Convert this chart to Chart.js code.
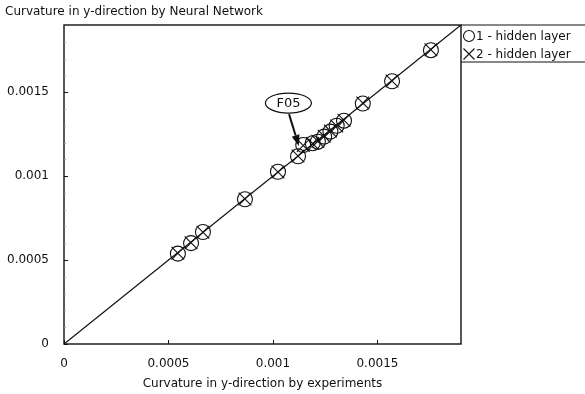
<!DOCTYPE html>
<html>
<head>
<meta charset="utf-8">
<script src="https://cdn.jsdelivr.net/npm/chart.js@4/dist/chart.umd.min.js"></script>
<style>
  html, body { margin: 0; padding: 0; background: #fff; }
  #wrap { width: 585px; height: 394px; }
</style>
</head>
<body>
<div id="wrap"><canvas id="c" width="585" height="394"></canvas></div>
<script>
// ---- data ----
const chartTitle = 'Curvature in y-direction by Neural Network';
const xAxisTitle = 'Curvature in y-direction by experiments';
const seriesLabels = ['1 - hidden layer', '2 - hidden layer'];
const tickValues = [0, 0.0005, 0.001, 0.0015];
const tickLabels = ['0', '0.0005', '0.001', '0.0015'];
const axisMin = 0;
const axisMax = 0.0019;
const experimentX = [0.000545, 0.000608, 0.000665, 0.000866, 0.001024, 0.001120, 0.001145, 0.001190, 0.001215, 0.001245, 0.001275, 0.001305, 0.001340, 0.001430, 0.001570, 0.001756];
const hidden1Y    = [0.000538, 0.000601, 0.000667, 0.000862, 0.001026, 0.001118, 0.001185, 0.001196, 0.001205, 0.001235, 0.001265, 0.001300, 0.001330, 0.001432, 0.001565, 0.001750];
const hidden2Y    = [0.000540, 0.000603, 0.000665, 0.000864, 0.001024, 0.001120, 0.001182, 0.001194, 0.001208, 0.001238, 0.001268, 0.001298, 0.001333, 0.001435, 0.001567, 0.001752];
const diagonal = [[0, 0], [0.0019, 0.0019]];
const annotationText = 'F05';
const annotationLabelAt = [0.001074, 0.001435];
const annotationArrowFrom = [0.001077, 0.001369];
const annotationArrowTo = [0.001124, 0.001179];

const FONT = '"DejaVu Sans", Verdana, sans-serif';
const toPts = (xs, ys) => xs.map((x, i) => ({ x: x, y: ys[i] }));

const framePlugin = {
  id: 'frame',
  afterDatasetsDraw(chart) {
    const ctx = chart.ctx;
    const a = chart.chartArea;
    const xs = chart.scales.x, ys = chart.scales.y;
    ctx.save();
    // frame
    ctx.strokeStyle = '#111';
    ctx.lineWidth = 1.4;
    ctx.strokeRect(a.left, a.top, a.right - a.left, a.bottom - a.top);
    // major ticks (inward)
    ctx.lineWidth = 1;
    ctx.beginPath();
    tickValues.forEach(v => {
      const px = Math.round(xs.getPixelForValue(v)) + 0.5;
      ctx.moveTo(px, a.bottom); ctx.lineTo(px, a.bottom - 4);
      const py = Math.round(ys.getPixelForValue(v)) + 0.5;
      ctx.moveTo(a.left, py); ctx.lineTo(a.left + 4, py);
    });
    ctx.stroke();
    // minor y ticks
    ctx.strokeStyle = '#999';
    ctx.beginPath();
    for (let k = 1; k < 19; k++) {
      if (k % 5 === 0) continue;
      const py = Math.round(ys.getPixelForValue(k * 0.0001)) + 0.5;
      ctx.moveTo(a.left, py); ctx.lineTo(a.left + 2, py);
    }
    ctx.stroke();

    // legend box
    ctx.strokeStyle = '#111';
    ctx.lineWidth = 1.2;
    ctx.beginPath();
    ctx.moveTo(a.right, a.top); ctx.lineTo(585, a.top);
    ctx.moveTo(a.right, a.top + 37); ctx.lineTo(585, a.top + 37);
    ctx.stroke();
    ctx.fillStyle = '#111';
    ctx.font = '12px ' + FONT;
    ctx.textBaseline = 'middle';
    ctx.textAlign = 'left';
    const lx = a.right + 8;
    const r1 = a.top + 11, r2 = a.top + 29;
    ctx.lineWidth = 1.1;
    ctx.beginPath(); ctx.arc(lx, r1, 5.5, 0, Math.PI * 2); ctx.stroke();
    ctx.beginPath();
    ctx.moveTo(lx - 5.5, r2 - 5.5); ctx.lineTo(lx + 5.5, r2 + 5.5);
    ctx.moveTo(lx + 5.5, r2 - 5.5); ctx.lineTo(lx - 5.5, r2 + 5.5);
    ctx.stroke();
    ctx.fillText(seriesLabels[0], lx + 7, r1 + 1);
    ctx.fillText(seriesLabels[1], lx + 7, r2 + 1);

    // F05 annotation
    const cx = xs.getPixelForValue(annotationLabelAt[0]);
    const cy = ys.getPixelForValue(annotationLabelAt[1]);
    ctx.lineWidth = 1.2;
    ctx.fillStyle = '#fff';
    ctx.beginPath(); ctx.ellipse(cx, cy, 23, 10, 0, 0, Math.PI * 2); ctx.fill(); ctx.stroke();
    ctx.fillStyle = '#111';
    ctx.textAlign = 'center';
    ctx.font = '13px ' + FONT;
    ctx.fillText(annotationText, cx, cy + 1);
    const fx = xs.getPixelForValue(annotationArrowFrom[0]);
    const fy = ys.getPixelForValue(annotationArrowFrom[1]);
    const tx = xs.getPixelForValue(annotationArrowTo[0]);
    const ty = ys.getPixelForValue(annotationArrowTo[1]);
    const ang = Math.atan2(ty - fy, tx - fx);
    const hl = 11, hw = 4;
    const bx = tx - hl * Math.cos(ang), by = ty - hl * Math.sin(ang);
    ctx.lineWidth = 2;
    ctx.beginPath(); ctx.moveTo(fx, fy); ctx.lineTo(bx, by); ctx.stroke();
    ctx.beginPath();
    ctx.moveTo(tx, ty);
    ctx.lineTo(bx + hw * Math.sin(ang), by - hw * Math.cos(ang));
    ctx.lineTo(bx - hw * Math.sin(ang), by + hw * Math.cos(ang));
    ctx.closePath(); ctx.fill();
    ctx.restore();
  }
};

new Chart(document.getElementById('c'), {
  type: 'scatter',
  data: {
    datasets: [
      {
        type: 'line',
        label: 'diagonal',
        data: diagonal.map(p => ({ x: p[0], y: p[1] })),
        borderColor: '#111',
        borderWidth: 1.3,
        pointRadius: 0,
        fill: false,
        order: 3
      },
      {
        label: seriesLabels[0],
        data: toPts(experimentX, hidden1Y),
        pointStyle: 'circle',
        pointRadius: 7.5,
        pointBorderWidth: 1.1,
        borderColor: '#111',
        backgroundColor: 'rgba(0,0,0,0)',
        order: 2
      },
      {
        label: seriesLabels[1],
        data: toPts(experimentX, hidden2Y),
        pointStyle: 'crossRot',
        pointRadius: 9,
        pointBorderWidth: 1.1,
        borderColor: '#111',
        backgroundColor: 'rgba(0,0,0,0)',
        order: 1
      }
    ]
  },
  options: {
    responsive: false,
    animation: false,
    devicePixelRatio: 1,
    layout: { padding: { left: 5, right: 124, top: 0, bottom: 0 } },
    plugins: {
      legend: { display: false },
      tooltip: { enabled: false },
      title: {
        display: true,
        text: chartTitle,
        align: 'start',
        color: '#111',
        font: { family: FONT, size: 12, weight: 'normal' },
        padding: { top: 5, bottom: 5.6 }
      }
    },
    scales: {
      x: {
        type: 'linear',
        min: axisMin, max: axisMax,
        afterBuildTicks: s => { s.ticks = tickValues.map(v => ({ value: v })); },
        afterFit: s => { s.height = 50; },
        grid: { display: false, drawTicks: false },
        border: { display: false },
        ticks: {
          padding: 13,
          color: '#111',
          font: { family: FONT, size: 12 },
          callback: v => tickLabels[tickValues.indexOf(v)] ?? ''
        },
        title: {
          display: true,
          text: xAxisTitle,
          color: '#111',
          font: { family: FONT, size: 12 },
          padding: { top: 0, bottom: 3 }
        }
      },
      y: {
        type: 'linear',
        min: axisMin, max: axisMax,
        afterBuildTicks: s => { s.ticks = tickValues.map(v => ({ value: v })); },
        afterFit: s => { s.width = 59; },
        grid: { display: false, drawTicks: false },
        border: { display: false },
        ticks: {
          padding: 15,
          color: '#111',
          font: { family: FONT, size: 12 },
          callback: v => tickLabels[tickValues.indexOf(v)] ?? ''
        }
      }
    }
  },
  plugins: [framePlugin]
});
</script>
</body>
</html>
